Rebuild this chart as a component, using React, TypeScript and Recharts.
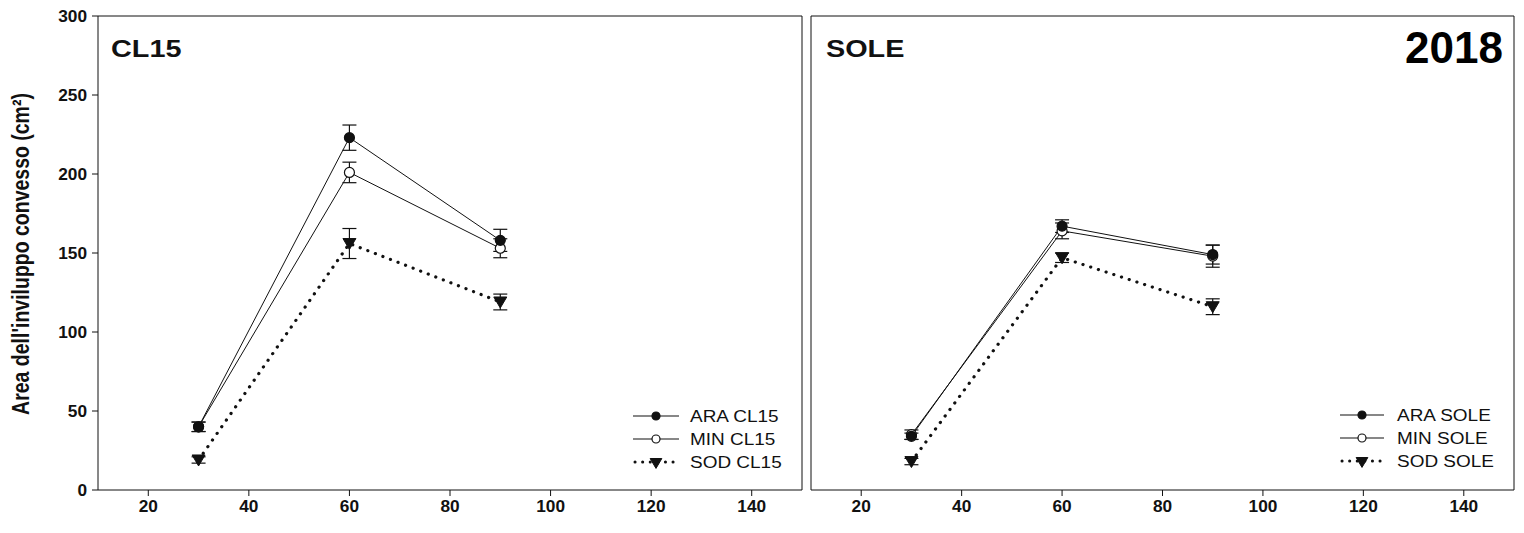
import React from "react";
import {
  LineChart,
  Line,
  XAxis,
  YAxis,
  ErrorBar,
  ReferenceLine,
} from "recharts";

// sampling days (x) and axis ticks
const days = [30, 60, 90];
const xTicks = [20, 40, 60, 80, 100, 120, 140];
const yTicks = [0, 50, 100, 150, 200, 250, 300];

// CL15 panel
const araCL15 = [40, 223, 158];
const araCL15Err = [3, 8, 7];
const minCL15 = [40, 201, 153];
const minCL15Err = [3, 6.5, 6];
const sodCL15 = [19, 156, 119];
const sodCL15Err = [2, 9.5, 5];

// SOLE panel
const araSOLE = [34, 167, 149];
const araSOLEErr = [2, 4, 6];
const minSOLE = [35, 164, 148];
const minSOLEErr = [3, 5, 7];
const sodSOLE = [18, 147, 116];
const sodSOLEErr = [2, 3, 5];

const legendCL15 = ["ARA CL15", "MIN CL15", "SOD CL15"];
const legendSOLE = ["ARA SOLE", "MIN SOLE", "SOD SOLE"];

const FONT = "'Liberation Sans', Arial, sans-serif";
const INK = "#111";
const TICK_STRETCH = 1.08;

function buildRows(
  ara: number[],
  araErr: number[],
  min: number[],
  minErr: number[],
  sod: number[],
  sodErr: number[]
) {
  return days.map((d, i) => ({
    day: d,
    ara: ara[i],
    araErr: araErr[i],
    min: min[i],
    minErr: minErr[i],
    sod: sod[i],
    sodErr: sodErr[i],
  }));
}

const rowsCL15 = buildRows(araCL15, araCL15Err, minCL15, minCL15Err, sodCL15, sodCL15Err);
const rowsSOLE = buildRows(araSOLE, araSOLEErr, minSOLE, minSOLEErr, sodSOLE, sodSOLEErr);

function Marker({ kind, cx, cy, r = 5 }: { kind: string; cx: number; cy: number; r?: number }) {
  if (kind === "sod") {
    const w = r * 1.3;
    return (
      <path
        d={`M${cx - w},${cy - r} L${cx + w},${cy - r} L${cx},${cy + r * 1.2} Z`}
        fill={INK}
        stroke={INK}
        strokeWidth={1}
      />
    );
  }
  return (
    <circle
      cx={cx}
      cy={cy}
      r={r}
      fill={kind === "ara" ? INK : "#fff"}
      stroke={INK}
      strokeWidth={1.2}
    />
  );
}

const dotFor = (kind: string) => (p: any) => (
  <Marker key={`${kind}-${p.index}`} kind={kind} cx={p.cx} cy={p.cy} />
);

function XTick(props: any) {
  const { x, y, payload } = props;
  return (
    <g transform={`translate(${x},${y})`}>
      <text
        transform={`scale(${TICK_STRETCH},1)`}
        textAnchor="middle"
        dy="0.71em"
        fontSize={16}
        fontWeight="bold"
        fontFamily={FONT}
        fill={INK}
      >
        {payload.value}
      </text>
    </g>
  );
}

function YTick(props: any) {
  const { x, y, payload } = props;
  return (
    <g transform={`translate(${x},${y})`}>
      <text
        transform={`scale(${TICK_STRETCH},1)`}
        textAnchor="end"
        dy="0.36em"
        fontSize={16}
        fontWeight="bold"
        fontFamily={FONT}
        fill={INK}
      >
        {payload.value}
      </text>
    </g>
  );
}

function Panel({ rows, withLabels }: { rows: any[]; withLabels: boolean }) {
  return (
    <LineChart
      width={withLabels ? 810 : 720}
      height={533}
      data={rows}
      margin={withLabels ? { top: 16, right: 8, bottom: 0, left: 40 } : { top: 16, right: 2, bottom: 0, left: 0 }}
    >
      <XAxis
        dataKey="day"
        type="number"
        domain={[10, 150]}
        ticks={xTicks}
        height={43}
        tickSize={6}
        tickMargin={5}
        stroke={INK}
        tick={<XTick />}
        interval={0}
      />
      <YAxis
        type="number"
        domain={[0, 300]}
        ticks={yTicks}
        width={withLabels ? 58 : 15}
        tickSize={6}
        tickMargin={5}
        stroke={INK}
        tick={withLabels ? <YTick /> : false}
        interval={0}
      />
      <ReferenceLine y={300} stroke={INK} />
      <ReferenceLine x={150} stroke={INK} />
      <Line
        dataKey="sod"
        stroke={INK}
        strokeWidth={3.2}
        strokeDasharray="0.1 8"
        strokeLinecap="round"
        dot={dotFor("sod")}
        isAnimationActive={false}
      >
        <ErrorBar dataKey="sodErr" width={7} stroke={INK} strokeWidth={1.2} direction="y" />
      </Line>
      <Line
        dataKey="min"
        stroke={INK}
        strokeWidth={1}
        dot={dotFor("min")}
        isAnimationActive={false}
      >
        <ErrorBar dataKey="minErr" width={7} stroke={INK} strokeWidth={1.2} direction="y" />
      </Line>
      <Line
        dataKey="ara"
        stroke={INK}
        strokeWidth={1}
        dot={dotFor("ara")}
        isAnimationActive={false}
      >
        <ErrorBar dataKey="araErr" width={7} stroke={INK} strokeWidth={1.2} direction="y" />
      </Line>
    </LineChart>
  );
}

function LegendBlock({ labels, x0, x1, textX, ys }: { labels: string[]; x0: number; x1: number; textX: number; ys: number[] }) {
  const kinds = ["ara", "min", "sod"];
  return (
    <g>
      {labels.map((lab, i) => {
        const kind = kinds[i];
        const y = ys[i];
        const mid = (x0 + x1) / 2;
        return (
          <g key={lab}>
            {kind === "sod" ? (
              <line x1={x0 + 2} x2={x1} y1={y} y2={y} stroke={INK} strokeWidth={3} strokeDasharray="0.1 7.5" strokeLinecap="round" />
            ) : (
              <line x1={x0} x2={x1} y1={y} y2={y} stroke={INK} strokeWidth={1.1} />
            )}
            <Marker kind={kind} cx={mid} cy={kind === "sod" ? y + 1 : y} r={kind === "sod" ? 4.5 : 4} />
            <g transform={`translate(${textX},${y + 6})`}>
              <text transform="scale(1.15,1)" fontSize={16.5} fontFamily={FONT} fill={INK}>
                {lab}
              </text>
            </g>
          </g>
        );
      })}
    </g>
  );
}

export default function App() {
  return (
    <div style={{ position: "absolute", left: 0, top: 0, width: 1524, height: 533, background: "#fff" }}>
      <div style={{ position: "absolute", left: 0, top: 0 }}>
        <Panel rows={rowsCL15} withLabels />
      </div>
      <div style={{ position: "absolute", left: 796, top: 0 }}>
        <Panel rows={rowsSOLE} withLabels={false} />
      </div>
      <svg
        width={1524}
        height={533}
        style={{ position: "absolute", left: 0, top: 0, pointerEvents: "none" }}
      >
        <g transform="translate(29,254) scale(1.2,1) rotate(-90)">
          <text textAnchor="middle" fontSize={19.5} fontWeight="bold" fontFamily={FONT} fill={INK}>
            Area dell'inviluppo convesso (cm²)
          </text>
        </g>
        <g transform="translate(111,57)">
          <text transform="scale(1.2,1)" fontSize={24} fontWeight="bold" fontFamily={FONT} fill={INK}>
            CL15
          </text>
        </g>
        <g transform="translate(826,57)">
          <text transform="scale(1.2,1)" fontSize={24} fontWeight="bold" fontFamily={FONT} fill={INK}>
            SOLE
          </text>
        </g>
        <text x={1503} y={63} textAnchor="end" fontSize={44} fontWeight="bold" fontFamily={FONT} fill="#000">
          2018
        </text>
        <LegendBlock labels={legendCL15} x0={633} x1={679} textX={690} ys={[416, 439, 462]} />
        <LegendBlock labels={legendSOLE} x0={1340} x1={1384} textX={1397} ys={[415, 438, 461]} />
      </svg>
    </div>
  );
}
